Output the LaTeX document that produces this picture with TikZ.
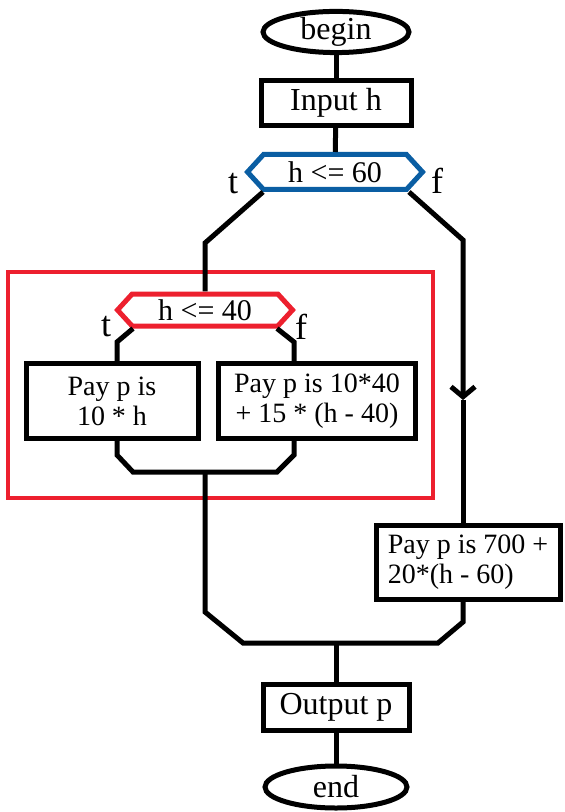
\documentclass[tikz,border=0pt]{standalone}
\usepackage{fontspec}
\setmainfont{Liberation Serif}
\usepackage{xcolor}
\usetikzlibrary{shapes.geometric,shapes.symbols,arrows.meta}

\definecolor{decblue}{RGB}{10,94,163}
\definecolor{decred}{RGB}{237,32,46}

\begin{document}
\begin{tikzpicture}[x=0.5pt,y=-0.5pt,line width=2.5pt,
    term/.style={draw,ellipse,inner sep=0pt,font=\fontsize{16}{18}\selectfont},
    io/.style={draw,rectangle,inner sep=0pt,font=\fontsize{16}{18}\selectfont},
    proc/.style={draw,rectangle,inner sep=0pt,align=center,font=\fontsize{14}{15}\selectfont},
    cond/.style={draw,signal,signal to=west and east,signal pointer angle=95,inner sep=0pt,font=\fontsize{15}{17}\selectfont},
    tf/.style={inner sep=0pt,font=\fontsize{18}{20}\selectfont}]
    \useasboundingbox (0,0) rectangle (564,812);

    % main column
    \node[term,minimum width=73pt,minimum height=17pt] (begin) at (336,32) {begin};
    \node[io,minimum width=75pt,minimum height=22.5pt] (inp) at (336,103) {Input h};
    \node[cond,decblue,text=black,minimum width=87.5pt,minimum height=17.5pt] (h60) at (335,172) {h <= 60};
    \node[tf] (t1) at (233,184) {t};
    \node[tf] (f1) at (437,181) {f};

    % inner decision
    \draw[decred,line width=1.7pt] (8,272) rectangle (433,498);
    \node[cond,decred,text=black,minimum width=87.5pt,minimum height=16pt] (h40) at (205,310) {h <= 40};
    \node[tf] (t2) at (106,327) {t};
    \node[tf] (f2) at (301,327) {f};
    \node[proc,minimum width=86pt,minimum height=37.5pt] (pay1) at (112,401) {Pay p is\\10 * h};
    \node[proc,minimum width=98.5pt,minimum height=37.5pt] (pay2) at (317,401) {Pay p is 10*40\\+ 15 * (h - 40)};

    % false branch
    \node[proc,align=left,minimum width=92pt,minimum height=37pt] (pay3) at (468,562) {Pay p is 700 +\\20*(h - 60)};

    \node[io,minimum width=73pt,minimum height=23pt] (outp) at (336,707) {Output p};
    \node[term,minimum width=71pt,minimum height=21pt] (fin) at (336,787) {end};

    \coordinate (tl) at (117,342);
    \coordinate (tr) at (294,342);
    \coordinate (bl) at (117,455);
    \coordinate (br) at (294,455);
    \coordinate (mid) at (205,472);
    \coordinate (arr) at (463,400);
    \coordinate (low) at (336,643);

    \draw[-] (begin) -- (inp);
    \draw[-] (inp) -- (h60);
    \draw[-] ([xshift=-36pt]h60.south) -- (205,243) -- (h40);
    \draw[-{Straight Barb[length=5pt,width=12pt]}] ([xshift=37pt]h60.south) -- (463,240) -- (arr);
    \draw[-] (arr) -- (arr |- pay3.north);
    \draw[-] ([xshift=-36pt]h40.south) -- (tl) -- (tl |- pay1.north);
    \draw[-] ([xshift=36pt]h40.south) -- (tr) -- (tr |- pay2.north);
    \draw[-] (bl |- pay1.south) -- (bl) -- ++(16,17) -- ++(144,0) -- (br) -- (br |- pay2.south);
    \draw[-] (mid) -- (205,612) -- (243,643) -- (438,643) -- (463,622) -- (arr |- pay3.south);
    \draw[-] (low) -- (outp);
    \draw[-] (outp) -- (fin);
\end{tikzpicture}
\end{document}
